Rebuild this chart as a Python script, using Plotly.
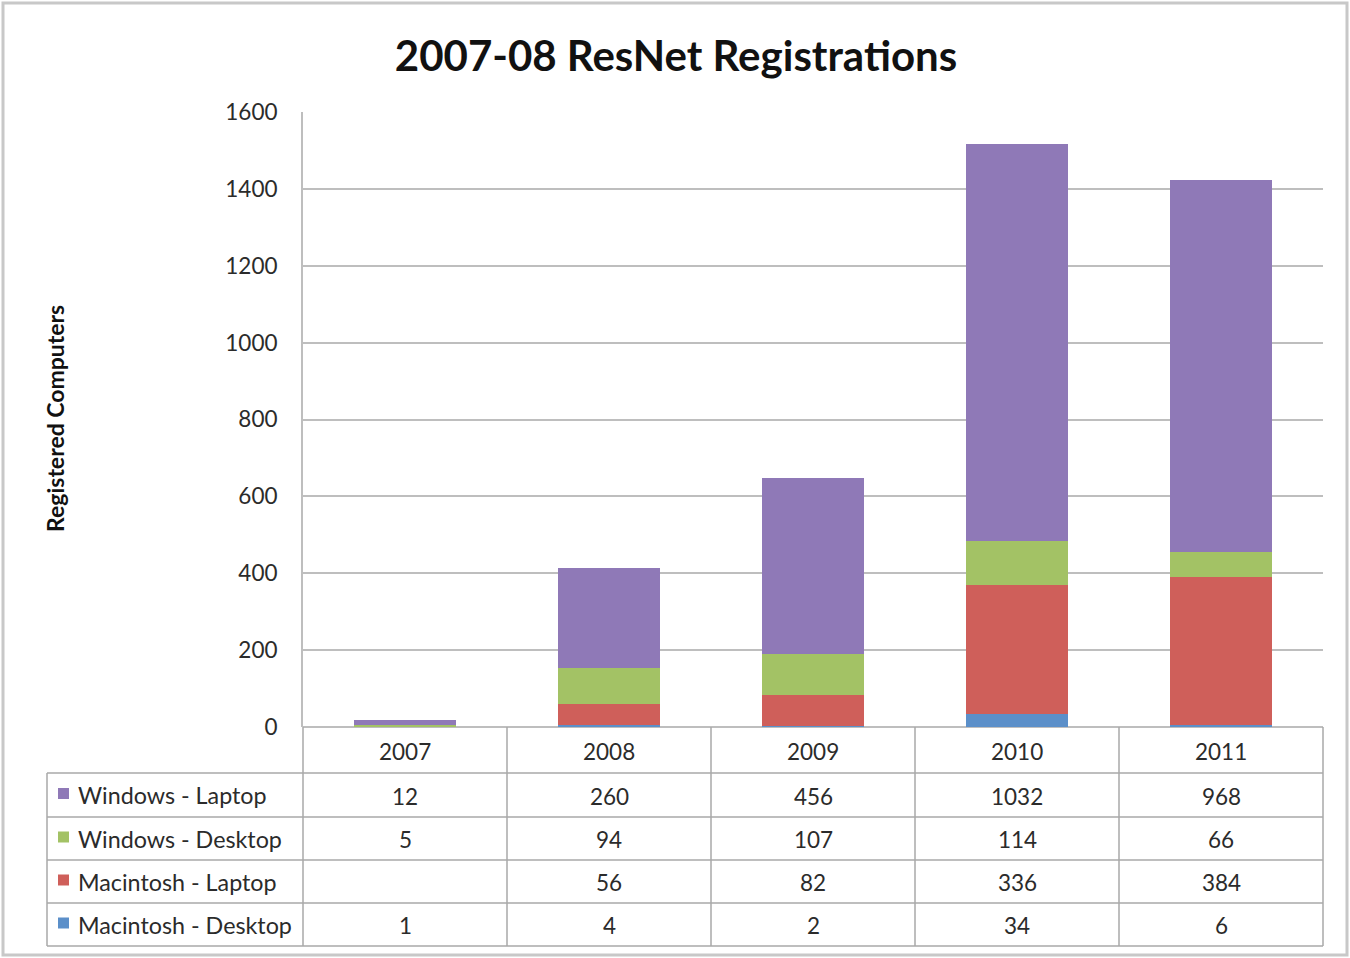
import plotly.graph_objects as go

# ---------------- data ----------------
years = ["2007", "2008", "2009", "2010", "2011"]
series_names = ["Windows - Laptop", "Windows - Desktop", "Macintosh - Laptop", "Macintosh - Desktop"]
win_laptop = [12, 260, 456, 1032, 968]
win_desktop = [5, 94, 107, 114, 66]
mac_laptop = [None, 56, 82, 336, 384]
mac_desktop = [1, 4, 2, 34, 6]
y_ticks = [0, 200, 400, 600, 800, 1000, 1200, 1400, 1600]
title_text = "2007-08 ResNet Registrations"
y_title = "Registered Computers"

# ---------------- style ----------------
colors = {
    "Windows - Laptop": "#8F79B7",
    "Windows - Desktop": "#A3C265",
    "Macintosh - Laptop": "#CF5F5A",
    "Macintosh - Desktop": "#5B8FC9",
}
FONT = "Lato"
TXT = "#2b2b2b"
GRID = "#BEBEBE"
TABLE = "#A8A8A8"
FS = 22.5

W, H = 1350, 958
PL, PR, PT, PB = 303, 1323, 112, 727  # plot area in pixels


def px(x):
    return (x - PL) / (PR - PL)


def py(y):
    return (PB - y) / (PB - PT)


values = {
    "Windows - Laptop": win_laptop,
    "Windows - Desktop": win_desktop,
    "Macintosh - Laptop": mac_laptop,
    "Macintosh - Desktop": mac_desktop,
}

fig = go.Figure()
# stacked bottom to top
for name in ["Macintosh - Desktop", "Macintosh - Laptop", "Windows - Desktop", "Windows - Laptop"]:
    fig.add_trace(go.Bar(
        x=years, y=values[name], name=name,
        marker=dict(color=colors[name], line=dict(width=0)),
        width=0.5, showlegend=False,
    ))

shapes = []
annotations = []

# outer border
shapes.append(dict(type="rect", xref="paper", yref="paper",
                   x0=px(3), x1=px(1347), y0=py(3), y1=py(955),
                   line=dict(color="#C8C8C8", width=3), layer="below"))

# table geometry
row_edges = [727, 773, 817, 860, 903, 946]
col_w = (PR - PL) / len(years)
col_centers = [px(PL + col_w * (i + 0.5)) for i in range(len(years))]
# vertical lines of data columns
for i in range(len(years) + 1):
    xx = PL + col_w * i
    shapes.append(dict(type="line", xref="paper", yref="paper",
                       x0=px(xx), x1=px(xx), y0=py(727), y1=py(946),
                       line=dict(color=TABLE, width=1.5)))
# left label column border
shapes.append(dict(type="line", xref="paper", yref="paper",
                   x0=px(47), x1=px(47), y0=py(773), y1=py(946),
                   line=dict(color=TABLE, width=1.5)))
# horizontal lines
for yy in row_edges[1:]:
    shapes.append(dict(type="line", xref="paper", yref="paper",
                       x0=px(47), x1=px(PR), y0=py(yy), y1=py(yy),
                       line=dict(color=TABLE, width=1.5)))

# header years
for yr, xc in zip(years, col_centers):
    annotations.append(dict(x=xc, xref="paper", y=py((727 + 773) / 2 + 2), yref="paper",
                            text=yr, showarrow=False, xanchor="center", yanchor="middle",
                            font=dict(family=FONT, size=FS, color=TXT)))

# rows
for r, name in enumerate(series_names):
    yc = (row_edges[r + 1] + row_edges[r + 2]) / 2
    shapes.append(dict(type="rect", xref="paper", yref="paper",
                       x0=px(58), x1=px(69), y0=py(yc - 7), y1=py(yc + 4),
                       fillcolor=colors[name], line=dict(width=0)))
    annotations.append(dict(x=px(76), xref="paper", y=py(yc), yref="paper",
                            text=name, showarrow=False, xanchor="left", yanchor="middle",
                            font=dict(family=FONT, size=23.3, color=TXT)))
    for xc, v in zip(col_centers, values[name]):
        if v is None:
            continue
        annotations.append(dict(x=xc, xref="paper", y=py(yc + 1), yref="paper",
                                text=str(v), showarrow=False, xanchor="center", yanchor="middle",
                                font=dict(family=FONT, size=FS, color=TXT)))

# y axis title
annotations.append(dict(x=px(55), xref="paper", y=py(419), yref="paper",
                        text="<b>" + y_title + "</b>", showarrow=False, textangle=-90,
                        xanchor="center", yanchor="middle",
                        font=dict(family=FONT, size=23, color="#111111")))

fig.update_layout(
    width=W, height=H,
    margin=dict(l=PL, r=W - PR, t=PT, b=H - PB, pad=0),
    paper_bgcolor="white", plot_bgcolor="white",
    barmode="stack", bargap=0.5,
    title=dict(text="<b>" + title_text + "</b>", x=676 / W,
               xanchor="center", y=1 - 56 / H, yanchor="middle", yref="container",
               xref="container",
               font=dict(family=FONT, size=42, color="#111111")),
    xaxis=dict(showticklabels=False, showgrid=False, zeroline=False,
               showline=False, range=[-0.5, len(years) - 0.5], fixedrange=True),
    yaxis=dict(range=[0, 1600], tickvals=y_ticks, showgrid=True, gridcolor=GRID,
               gridwidth=2, zeroline=True, zerolinecolor=GRID, zerolinewidth=2,
               showline=True, linecolor=GRID, linewidth=2,
               ticks="", ticklabelstandoff=19,
               tickfont=dict(family=FONT, size=FS, color=TXT)),
    shapes=shapes, annotations=annotations,
)

fig.write_html("out.html", config={"displayModeBar": False},
               post_script="document.body.style.margin='0';")
